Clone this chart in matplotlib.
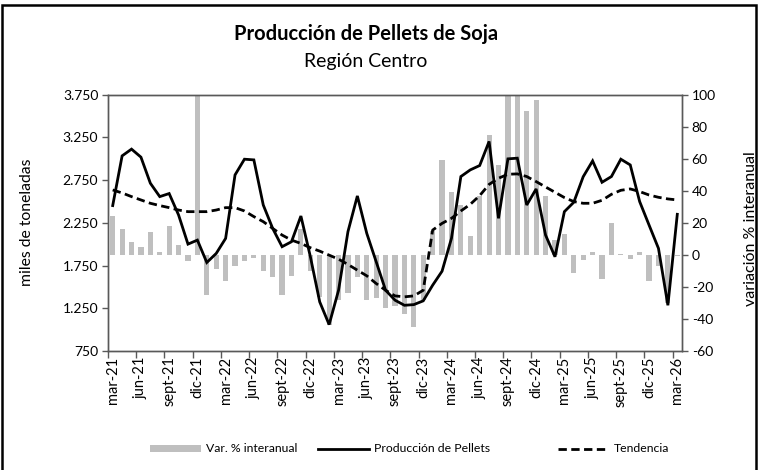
import matplotlib
matplotlib.use('Agg')
import matplotlib.pyplot as plt
import numpy as np
from matplotlib.lines import Line2D
from matplotlib.patches import Patch, Rectangle
from matplotlib.ticker import FuncFormatter

plt.rcParams['font.family'] = ['Lato', 'DejaVu Sans']

# ---------------- data ----------------
month_names = ['mar', 'abr', 'may', 'jun', 'jul', 'ago', 'sept', 'oct', 'nov', 'dic', 'ene', 'feb']
categories = []
for k in range(61):
    m = month_names[k % 12]
    yr = 21 + (k + 2) // 12
    categories.append(f"{m}-{yr}")

produccion = [2452, 3034, 3113, 3019, 2714, 2557, 2593, 2342, 2001, 2048,
              1786, 1892, 2068, 2811, 2995, 2987, 2459, 2185, 1971, 2029,
              2330, 1857, 1325, 1059, 1460, 2147, 2565, 2127, 1795, 1461,
              1345, 1285, 1293, 1337, 1520, 1684, 2068, 2792, 2870, 2921,
              3203, 2303, 2999, 3007, 2459, 2647, 2107, 1853, 2381, 2491,
              2790, 2975, 2725, 2792, 2995, 2928, 2499, 2224, 1951, 1285, 2350]

tendencia = [2635, 2600, 2557, 2518, 2479, 2452, 2428, 2400, 2381, 2381,
             2381, 2400, 2428, 2428, 2389, 2323, 2264, 2185, 2107, 2048,
             2009, 1959, 1919, 1872, 1825, 1763, 1696, 1630, 1540, 1461,
             1395, 1384, 1395, 1461, 2165, 2244, 2303, 2389, 2467, 2569,
             2700, 2772, 2819, 2823, 2792, 2733, 2670, 2608, 2546, 2499,
             2479, 2479, 2514, 2584, 2631, 2647, 2616, 2576, 2549, 2530, 2518]

var_interanual = [24, 16, 8, 5, 14, 2, 18, 6, -4, 120,
                  -25, -9, -16, -7, -4, -2, -10, -14, -25, -13,
                  16, -10, -26, -44, -28, -24, -14, -28, -27, -33,
                  -32, -37, -45, -28, 15, 59, 39, 31, 12, 37,
                  75, 56, 120, 134, 90, 97, 37, 9, 13, -11,
                  -3, 1.5, -15, 20, 0.5, -2.5, 1.5, -16, -7, -30, -1]

left_ticks = [750, 1250, 1750, 2250, 2750, 3250, 3750]
right_ticks = [-60, -40, -20, 0, 20, 40, 60, 80, 100]

# ---------------- figure ----------------
W, H = 762, 470
fig = plt.figure(figsize=(W / 100, H / 100), dpi=100)

x = np.arange(len(categories))
L, R, B, T = 108, 682, 351, 94.7
ax = fig.add_axes([L / W, 1 - B / H, (R - L) / W, (B - T) / H])
ax.bar(x, var_interanual, width=0.55, color='#BFBFBF', zorder=1)
ax.set_ylim(-60, 100)
ax.set_xlim(-0.5, len(categories) - 0.5)

ax2 = ax.twinx()
ax2.plot(x, produccion, color='black', lw=2.0, solid_joinstyle='miter', zorder=3)
ax2.plot(x, tendencia, color='black', lw=2.0, ls=(0, (3, 1.6)), zorder=3)
ax2.set_ylim(750, 3750)

# y axes placement
ax.yaxis.tick_right()
ax.yaxis.set_label_position('right')
ax2.yaxis.tick_left()
ax2.yaxis.set_label_position('left')

ax.set_yticks(right_ticks)
ax.set_yticklabels([str(v) for v in right_ticks])
ax2.set_yticks(left_ticks)
ax2.yaxis.set_major_formatter(FuncFormatter(lambda v, p: f"{v:,.0f}".replace(',', '.')))

spine_col = '#595959'
for a in (ax, ax2):
    for s in a.spines.values():
        s.set_color(spine_col)
        s.set_linewidth(1.0)
ax.tick_params(axis='y', direction='out', length=4, width=1, color=spine_col,
               labelsize=10, pad=3, right=True, left=False)
ax2.tick_params(axis='y', direction='out', length=4, width=1, color=spine_col,
                labelsize=10, pad=3, left=True, right=False)

# x ticks: marks at boundaries every 3 months, labels at category centres
bounds = np.arange(-0.5, len(categories) - 1, 3)
label_pos = np.arange(0, len(categories), 3)
ax.set_xticks(bounds)
ax.set_xticklabels([])
ax.set_xticks(label_pos, minor=True)
ax.set_xticklabels([categories[i] for i in label_pos], minor=True, rotation=90)
ax.tick_params(axis='x', which='major', direction='out', length=5, width=1, color=spine_col)
ax.tick_params(axis='x', which='minor', length=0, labelsize=10.5, pad=4)

fig.text(27 / W, 1 - 222 / H, 'miles de toneladas', rotation=90, ha='center', va='center', fontsize=11.3)
fig.text(751 / W, 1 - 229 / H, 'variación % interanual', rotation=90, ha='center', va='center', fontsize=11.5)

fig.text(366 / W, 1 - 34 / H, 'Producción de Pellets de Soja', ha='center', va='center',
         fontsize=14.5, fontweight='bold')
fig.text(366 / W, 1 - 62 / H, 'Región Centro', ha='center', va='center', fontsize=14)

# legend
leg_y = 1 - 449 / H
h1 = Patch(facecolor='#BFBFBF', edgecolor='none', label='Var. % interanual')
h2 = Line2D([], [], color='black', lw=2.0, label='Producción de Pellets')
h3 = Line2D([], [], color='black', lw=2.0, ls=(0, (3, 1.6)), label='Tendencia')
for h, xpos in ((h1, 150), (h2, 318), (h3, 558)):
    fig.legend(handles=[h], loc='center left', bbox_to_anchor=(xpos / W, leg_y),
               frameon=False, fontsize=8.8, handlelength=4.2, handletextpad=0.4,
               borderaxespad=0, borderpad=0, handleheight=0.5)

# outer frame
fig.add_artist(Rectangle((2 / W, -0.05), 754 / W, 1.05 - 5 / H, transform=fig.transFigure,
                         fill=False, edgecolor='black', lw=1.8))

fig.savefig('out.png', dpi=100)
